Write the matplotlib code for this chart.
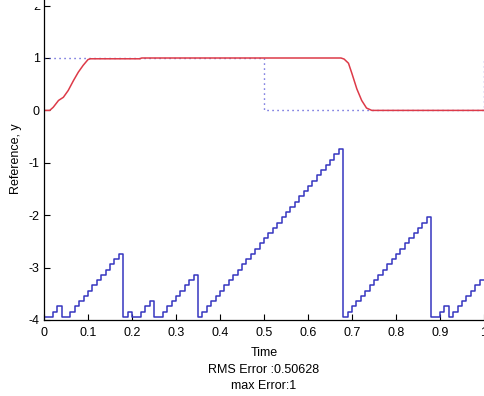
import matplotlib
matplotlib.use("Agg")
import matplotlib.pyplot as plt
from matplotlib.transforms import Bbox

plt.rcParams['font.family'] = ['Liberation Sans', 'DejaVu Sans']

# Reference square wave (dotted)
ref_t = [0.0, 0.5, 0.5, 1.0, 1.0]
ref_y = [1.0, 1.0, 0.0, 0.0, 1.0]

# System output y
out_t = [0.0, 0.013, 0.021, 0.033, 0.044, 0.055, 0.067, 0.078, 0.089, 0.100,
         0.105, 0.218, 0.222, 0.675, 0.682, 0.692, 0.700, 0.711, 0.722, 0.733,
         0.745, 1.0]
out_y = [0.0, 0.0, 0.06, 0.19, 0.25, 0.38, 0.57, 0.73, 0.86, 0.97,
         0.985, 0.985, 1.0, 1.0, 0.98, 0.90, 0.70, 0.41, 0.19, 0.045,
         0.0, 0.0]

# Sampled staircase signal, one value every 0.01 s
stair_t = [i / 100 for i in range(101)]
stair_y = [
    -3.94, -3.94, -3.84, -3.74, -3.94, -3.94, -3.84, -3.74, -3.64, -3.54,
    -3.44, -3.34, -3.24, -3.14, -3.04, -2.94, -2.84, -2.74, -3.94, -3.84,
    -3.94, -3.94, -3.84, -3.74, -3.64, -3.94, -3.94, -3.84, -3.74, -3.64,
    -3.54, -3.44, -3.34, -3.24, -3.14, -3.94, -3.84, -3.74, -3.64, -3.54,
    -3.44, -3.34, -3.24, -3.14, -3.04, -2.94, -2.84, -2.74, -2.64, -2.54,
    -2.44, -2.34, -2.24, -2.14, -2.04, -1.94, -1.84, -1.74, -1.64, -1.54,
    -1.44, -1.34, -1.24, -1.14, -1.04, -0.94, -0.84, -0.74, -3.94, -3.84,
    -3.74, -3.64, -3.54, -3.44, -3.34, -3.24, -3.14, -3.04, -2.94, -2.84,
    -2.74, -2.64, -2.54, -2.44, -2.34, -2.24, -2.14, -2.04, -3.94, -3.94,
    -3.84, -3.74, -3.94, -3.84, -3.74, -3.64, -3.54, -3.44, -3.34, -3.24,
    -3.24,
]

x_ticks = [0, 0.1, 0.2, 0.3, 0.4, 0.5, 0.6, 0.7, 0.8, 0.9, 1]
x_tick_labels = ['0', '0.1', '0.2', '0.3', '0.4', '0.5', '0.6', '0.7', '0.8', '0.9', '1']
y_ticks = [-4, -3, -2, -1, 0, 1, 2]
y_tick_labels = ['-4', '-3', '-2', '-1', '0', '1', '2']

W, H = 485, 396
fig = plt.figure(figsize=(W / 100, H / 100), dpi=100)

# pixel layout: x=0 at 44, x=1 at 484; y=-4 at 320, y=2 at 5.6 (axis runs past the top edge)
left, right = 44, 484
y_bot_px, y_two_px = 320, 5.6
px_per_unit = (y_bot_px - y_two_px) / 6.0
y_top_val = 2.3
top_px = y_bot_px - (y_top_val + 4) * px_per_unit
ax = fig.add_axes([left / W, (H - y_bot_px) / H, (right - left) / W,
                   (y_bot_px - top_px) / H])

ax.plot(ref_t, ref_y, color='#3b3bd0', lw=1.0, linestyle=(0, (0.8, 2.8)))
ax.plot(out_t, out_y, color='#dd3a48', lw=1.1)
ax.step(stair_t, stair_y, where='post', color='#3535c0', lw=1.1)

ax.set_xlim(0, 1)
ax.set_ylim(-4, y_top_val)
ax.set_xticks(x_ticks)
ax.set_xticklabels(x_tick_labels)
ax.set_yticks(y_ticks)
ax.set_yticklabels(y_tick_labels)
ax.tick_params(direction='in', length=4, width=0.8, labelsize=9)
ax.tick_params(axis='x', pad=5)
ax.tick_params(axis='y', pad=3)
for s in ('top', 'right'):
    ax.spines[s].set_visible(False)
for s in ('left', 'bottom'):
    ax.spines[s].set_linewidth(0.9)

# the top band of the canvas hides the upper part of the "2" label
top_clip = Bbox.from_extents(0, 0, W, H - 7)
for lbl in ax.get_yticklabels():
    if lbl.get_text() == '2':
        lbl.set_clip_box(top_clip)
        lbl.set_clip_on(True)

ax.set_xlabel('Time\nRMS Error :0.50628\nmax Error:1', fontsize=9,
              linespacing=1.5, labelpad=6)
ax.set_ylabel('Reference, y', fontsize=9)
ax.yaxis.set_label_coords(-0.05, (y_bot_px - 159) / (y_bot_px - top_px))

fig.savefig('out.png', dpi=100)
